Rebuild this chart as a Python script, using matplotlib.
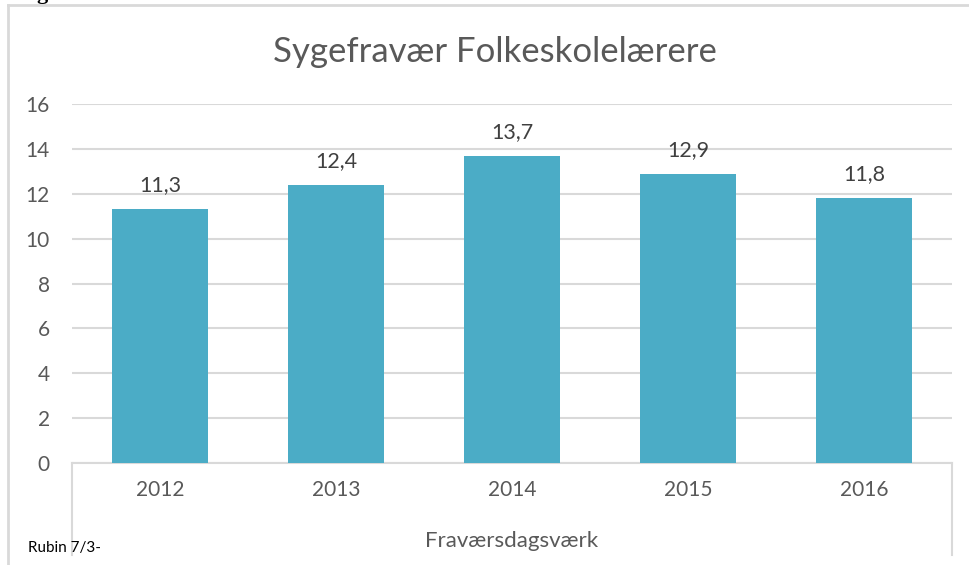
import matplotlib
matplotlib.use('agg')
from matplotlib import pyplot as plt
from matplotlib.lines import Line2D

plt.rcParams['font.family'] = ['Lato', 'DejaVu Sans']

years = ['2012', '2013', '2014', '2015', '2016']
values = [11.3, 12.4, 13.7, 12.9, 11.8]
labels = ['11,3', '12,4', '13,7', '12,9', '11,8']
yticks = [0, 2, 4, 6, 8, 10, 12, 14, 16]

W, H = 970, 565
grey = '#595959'
line_grey = '#D9D9D9'

fig = plt.figure(figsize=(W / 100, H / 100), dpi=100)
ax = fig.add_axes([72 / W, (H - 463) / H, 880 / W, 359 / H])

x = range(len(years))
bars = ax.bar(x, values, width=0.55, color='#4BACC6', zorder=3)
for b, lab in zip(bars, labels):
    ax.annotate(lab, (b.get_x() + b.get_width() / 2, b.get_height()),
                xytext=(0, 10), textcoords='offset points', ha='center', va='bottom',
                fontsize=15.5, color='#404040')

ax.set_xlim(-0.5, len(years) - 0.5)
ax.set_ylim(0, 16)
ax.set_yticks(yticks)
ax.set_yticklabels([str(t) for t in yticks])
ax.set_xticks(list(x))
ax.set_xticklabels(years)
ax.yaxis.grid(True, color=line_grey, linewidth=1.5, zorder=0)
ax.tick_params(axis='both', length=0, labelsize=15, colors=grey)
ax.tick_params(axis='x', pad=12)
ax.tick_params(axis='y', pad=16)
for side in ['top', 'right', 'left']:
    ax.spines[side].set_visible(False)
ax.spines['bottom'].set_color(line_grey)
ax.spines['bottom'].set_linewidth(1.5)

# category axis box lines below the plot
for px in (72, 952):
    fig.add_artist(Line2D([px / W, px / W], [(H - 463) / H, (H - 555) / H],
                          color=line_grey, linewidth=1.5))

# outer chart border
fig.add_artist(Line2D([8 / W, 8 / W], [0, (H - 5) / H], color=line_grey, linewidth=2))
fig.add_artist(Line2D([8 / W, 1], [(H - 5) / H, (H - 5) / H], color=line_grey, linewidth=2))

fig.text(495 / W, (H - 52) / H, 'Sygefravær Folkeskolelærere', ha='center', va='center',
         fontsize=25, color=grey)
fig.text(512 / W, (H - 541) / H, 'Fraværsdagsværk', ha='center', va='center',
         fontsize=16, color=grey)
fig.text(28 / W, (H - 548) / H, 'Rubin 7/3-', ha='left', va='center',
         fontsize=11, color='black')
# cut-off heading above the chart, only the tail of the letter shows
fig.text(36 / W, (H + 1) / H, 'g', ha='left', va='baseline', fontsize=16,
         fontweight='bold', family='Liberation Serif', color='black')

fig.savefig('out.png', dpi=100)
